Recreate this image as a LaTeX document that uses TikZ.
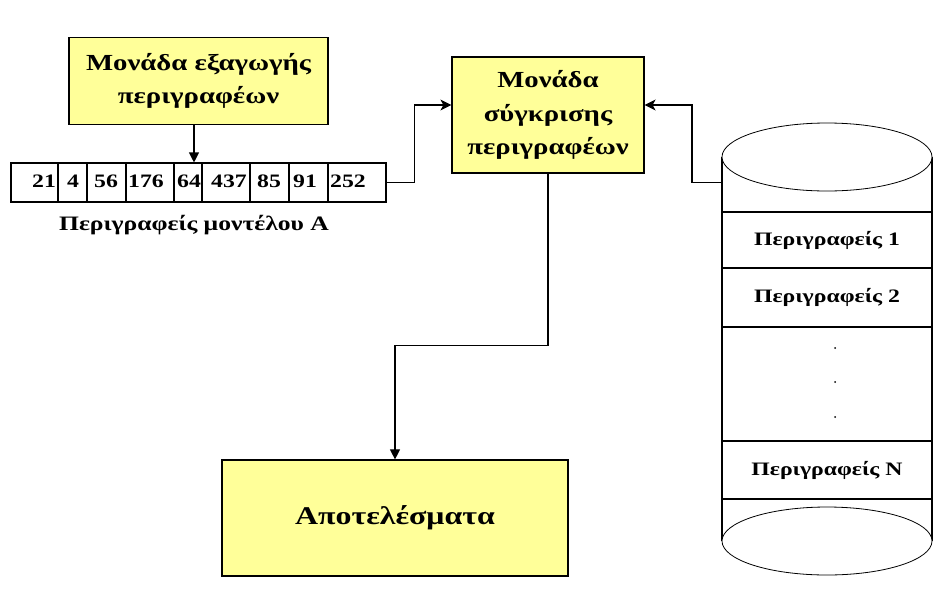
\documentclass[tikz,border=0pt]{standalone}
\usepackage{fontspec}
\setmainfont{Liberation Serif}[FakeStretch=1.25]
\usetikzlibrary{arrows.meta}
\definecolor{paleyellow}{RGB}{255,255,153}
\tikzset{
  unit/.style={draw, fill=paleyellow, line width=1.2pt, align=center,
    font=\bfseries\fontsize{23}{33.5}\selectfont},
  conn/.style={line width=1.1pt, -{Triangle[length=10pt,width=10pt]}},
  sideconn/.style={line width=1.1pt, -{Stealth[length=11pt,width=11pt,inset=3pt]}},
  num/.style={anchor=base west, inner sep=0pt, font=\bfseries\fontsize{19}{20}\selectfont},
  descr/.style={font=\bfseries\fontsize{19}{20}\selectfont}
}
\begin{document}
\begin{tikzpicture}[x=1pt, y=-1pt]
    \useasboundingbox (0,0) rectangle (952,600);
    % boxes
    \node[unit, minimum width=259pt, minimum height=87pt] (extract) at (198.5,81)
      {Μονάδα εξαγωγής\\περιγραφέων};
    \node[unit, minimum width=192pt, minimum height=116pt] (compare) at (548,115)
      {Μονάδα\\σύγκρισης\\περιγραφέων};
    \node[unit, minimum width=346pt, minimum height=116pt,
      font=\bfseries\fontsize{25.5}{30}\selectfont] (results) at (395,518) {Αποτελέσματα};
    % descriptor vector of model A
    \node[draw, line width=1.1pt, minimum width=375pt, minimum height=39pt] (vec) at (198.5,182.5) {};
    \foreach \x in {58,87,126,174,202,250,289,328}
      \draw[line width=1.1pt] (\x,163) -- (\x,202);
    \foreach \x/\v [count=\i] in {32/21,67/4,94/56,128/176,177/64,211/437,257/85,293/91,330/252}
      \node[num] (n\i) at (\x,187) {\v};
    \node[descr, font=\bfseries\fontsize{20.5}{22}\selectfont] (veclabel) at (194,225) {Περιγραφείς μοντέλου Α};
    % database
    \def \rx {105}
    \def \ry {34}
    \draw[line width=1.1pt] (722,157) -- (722,541) (932,157) -- (932,541);
    \draw[line width=0.8pt, fill=white] (827,157) ellipse [x radius=\rx, y radius=\ry];
    \draw[line width=0.8pt, fill=white] (827,541) ellipse [x radius=\rx, y radius=\ry];
    \foreach \y in {212,268,327,441,499}
      \draw[line width=1.1pt] (722,\y) -- (932,\y);
    \node[descr] (d1) at (827,240) {Περιγραφείς 1};
    \node[descr] (d2) at (827,297) {Περιγραφείς 2};
    \foreach \y in {348,382,417}
      \fill (835,\y) circle (1pt);
    \node[descr] (dN) at (827,470) {Περιγραφείς N};
    \coordinate (dbside) at (722,182.5);
    % connectors
    \draw[conn] ([xshift=-4.5pt]extract.south) -- ([xshift=-4.5pt]extract.south |- vec.north);
    \draw[sideconn] (vec.east) -- ++(28,0) |- ([yshift=10pt]compare.west);
    \draw[sideconn] (dbside) -- ++(-30,0) |- ([yshift=10pt]compare.east);
    \draw[conn] (compare.south) -- ++(0,172) -| (results.north);
\end{tikzpicture}
\end{document}
